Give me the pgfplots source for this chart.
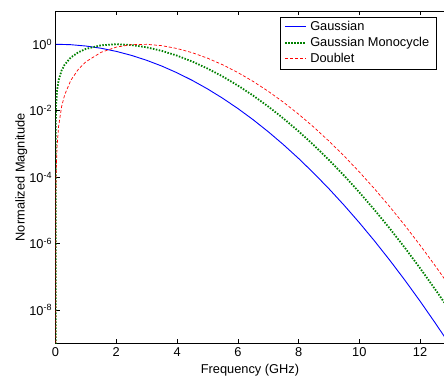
\documentclass[border=0pt]{standalone}
\usepackage{fontspec}
\setmainfont{Liberation Sans}
\usepackage{pgfplots}
\pgfplotsset{compat=1.18}
\definecolor{mgreen}{rgb}{0,0.5,0}
\begin{document}
\begin{tikzpicture}
\begin{axis}[
  scale only axis,
  width=388.5pt, height=332pt,
  ymode=log,
  xmin=0, xmax=12.8,
  ymin=1e-9, ymax=1e1,
  xtick={0,2,4,6,8,10,12},
  ytick={1e-8,1e-6,1e-4,1e-2,1},
  yticklabels={10\textsuperscript{-8},10\textsuperscript{-6},10\textsuperscript{-4},10\textsuperscript{-2},10\textsuperscript{0}},
  minor ytick={},
  yminorticks=false,
  tick align=inside,
  xtick pos=both,
  ytick pos=left,
  major tick length=4pt,
  tick style={black, line width=0.5pt},
  axis line style={black, line width=0.8pt},
  font=\fontsize{12.8}{15}\selectfont,
  ticklabel style={font=\fontsize{12.8}{15}\selectfont},
  /pgf/number format/assume math mode=true,
  xlabel={Frequency (GHz)},
  ylabel={Normalized Magnitude},
  xlabel style={at={(axis description cs:0.5,0)}, anchor=north, yshift=-20pt, inner sep=1pt},
  ylabel style={at={(axis description cs:0,0.5)}, anchor=south, yshift=27pt, inner sep=1pt},
  xticklabel style={yshift=-1pt},
  legend style={at={(axis description cs:1,1)}, anchor=north east, xshift=-8pt, yshift=-6pt,
    fill=white, inner xsep=4pt, inner ysep=2pt,
    nodes={inner xsep=3pt, inner ysep=2pt, text height=9.5pt, text depth=2.5pt, font=\fontsize{12.8}{15}\selectfont},
    row sep=0pt, cells={anchor=west}},
  legend image code/.code={\draw[#1] (0pt,0.5pt) -- (21pt,0.5pt);},
  legend cell align=left,
  clip=true,
]
\addplot[draw=blue, line width=0.9pt] coordinates {
(0,1) (0.5,0.9696) (1,0.8837) (1.5,0.7570) (2,0.6096) (2.5,0.4617) (3,0.3286) (3.5,0.2199)
(4,0.1383) (4.5,0.08177) (5,0.04545) (5.5,0.02374) (6,0.01166) (6.5,0.005385) (7,0.002337)
(7.5,9.537e-4) (8,3.657e-4) (8.5,1.318e-4) (9,4.470e-5) (9.5,1.424e-5) (10,4.266e-6)
(10.5,1.201e-6) (11,3.179e-7) (11.5,7.912e-8) (12,1.850e-8) (12.5,4.068e-9) (12.8,1.591e-9)
};
\addlegendentry{Gaussian}
\addplot[draw=mgreen, line width=1.8pt, dash pattern=on 1.5pt off 1.5pt] coordinates {
(0,1e-12) (0.01,8.20e-3) (0.02,0.01640) (0.05,0.04100) (0.1,0.08190) (0.2,0.1632) (0.3,0.2432)
(0.5,0.3976) (0.75,0.5737) (1,0.7244) (1.5,0.9313) (2,1.000) (2.5,0.9465) (3,0.8082)
(3.5,0.6311) (4,0.4536) (4.5,0.3017) (5,0.1864) (5.5,0.1071) (6,0.05739) (6.5,0.02870)
(7,0.01341) (7.5,5.865e-3) (8,2.399e-3) (8.5,9.19e-4) (9,3.298e-4) (9.5,1.109e-4)
(10,3.498e-5) (10.5,1.034e-5) (11,2.867e-6) (11.5,7.458e-7) (12,1.821e-7) (12.5,4.171e-8)
(12.8,1.670e-8)
};
\addlegendentry{Gaussian Monocycle}
\addplot[draw=red, line width=0.7pt, dash pattern=on 3pt off 2pt] coordinates {
(0,1e-12) (0.01,3.361e-5) (0.02,1.344e-4) (0.05,8.40e-4) (0.1,3.357e-3) (0.2,0.01337)
(0.3,0.02991) (0.5,0.08147) (0.75,0.1764) (1,0.2971) (1.5,0.5726) (2,0.8199) (2.5,0.9701)
(3,0.9940) (3.5,0.9053) (4,0.7437) (4.5,0.5564) (5,0.3819) (5.5,0.2414) (6,0.1411)
(6.5,0.07646) (7,0.03849) (7.5,0.01803) (8,7.868e-3) (8.5,3.201e-3) (9,1.217e-3)
(9.5,4.320e-4) (10,1.434e-4) (10.5,4.451e-5) (11,1.293e-5) (11.5,3.516e-6) (12,8.956e-7)
(12.5,2.136e-7) (12.8,8.764e-8)
};
\addlegendentry{Doublet}
\end{axis}
\pgfresetboundingbox
\path[use as bounding box] ([xshift=-55.5pt,yshift=-35pt]current axis.south west) rectangle ([xshift=-0.4pt,yshift=11pt]current axis.north east);
\end{tikzpicture}
\end{document}
